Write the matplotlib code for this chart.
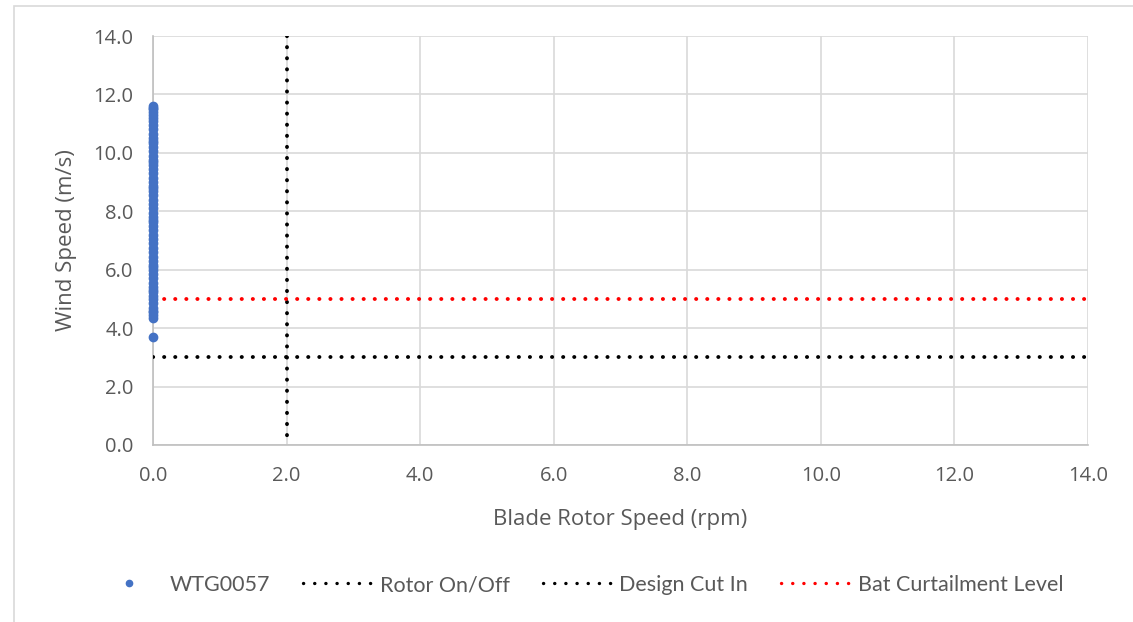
import matplotlib
matplotlib.use("Agg")
import matplotlib.pyplot as plt
from matplotlib.patches import Rectangle
from matplotlib.lines import Line2D

plt.rcParams['font.family'] = ['Open Sans', 'DejaVu Sans']

# Data
rotor_speed = [0.0] * 61
wind_speed = [3.7, 4.35, 4.45, 4.55, 4.7, 4.85, 5.0, 5.1, 5.25, 5.4, 5.55, 5.7,
              5.85, 6.0, 6.15, 6.3, 6.45, 6.6, 6.75, 6.9, 7.05, 7.2, 7.35, 7.5,
              7.65, 7.8, 7.95, 8.1, 8.25, 8.4, 8.55, 8.7, 8.85, 9.0, 9.15, 9.3,
              9.45, 9.6, 9.75, 9.9, 10.05, 10.2, 10.35, 10.5, 10.65, 10.8, 10.95,
              11.1, 11.2, 11.3, 11.4, 11.5, 11.55, 11.6, 4.6, 5.3, 6.1, 7.7, 8.8, 9.7, 10.4]
rotor_onoff_x = [2.0, 2.0]
rotor_onoff_y = [14.0, 0.0]
cut_in_x = [0.0, 14.0]
cut_in_y = [3.0, 3.0]
bat_x = [0.0, 14.0]
bat_y = [5.0, 5.0]
ticks = [0, 2, 4, 6, 8, 10, 12, 14]
tick_labels = ["0.0", "2.0", "4.0", "6.0", "8.0", "10.0", "12.0", "14.0"]

W, H = 1133, 622
fig = plt.figure(figsize=(W / 100, H / 100), dpi=100)
fig.patches.append(Rectangle((14 / W, -0.1), 1.2, 1 - 6 / H + 0.1, transform=fig.transFigure,
                             fill=False, edgecolor='#d9d9d9', linewidth=1.2))

ax = fig.add_axes([153 / W, 1 - 445 / H, (1088 - 153) / W, (445 - 36) / H])
txt = '#595959'
grid = '#d9d9d9'

LW = 2.8
dot_ls = (0, (0.05, 2.8))
ax.scatter(rotor_speed, wind_speed, s=36, color='#4472C4', zorder=4, label='WTG0057', clip_on=False)
ax.plot(rotor_onoff_x, rotor_onoff_y, color='black', lw=LW, ls=dot_ls, dash_capstyle='round',
        label='Rotor On/Off', zorder=3)
ax.plot(cut_in_x, cut_in_y, color='black', lw=LW, ls=dot_ls, dash_capstyle='round',
        label='Design Cut In', zorder=3)
ax.plot(bat_x, bat_y, color='#FF0000', lw=LW, ls=dot_ls, dash_capstyle='round',
        label='Bat Curtailment Level', zorder=3)

ax.set_xlim(0, 14)
ax.set_ylim(0, 14)
ax.set_xticks(ticks)
ax.set_xticklabels(tick_labels)
ax.set_yticks(ticks)
ax.set_yticklabels(tick_labels)
ax.grid(True, color=grid, lw=1.2, zorder=0)
ax.set_axisbelow(True)
for s in ['top', 'right']:
    ax.spines[s].set_visible(False)
for s in ['left', 'bottom']:
    ax.spines[s].set_color('#bfbfbf')
    ax.spines[s].set_linewidth(1.2)
ax.tick_params(length=0, labelsize=14.5, colors=txt)
ax.tick_params(axis='x', pad=15)
ax.tick_params(axis='y', pad=14)
ax.set_xlabel('Blade Rotor Speed (rpm)', fontsize=16, color=txt, labelpad=17)
ax.set_ylabel('Wind Speed (m/s)', fontsize=16, color=txt, labelpad=12)

handles = [Line2D([], [], marker='o', ls='none', color='#4472C4', markersize=4.5),
           Line2D([], [], color='black', lw=2.4, ls=(0, (0.05, 3.3)), dash_capstyle='round'),
           Line2D([], [], color='black', lw=2.4, ls=(0, (0.05, 3.3)), dash_capstyle='round'),
           Line2D([], [], color='#FF0000', lw=2.4, ls=(0, (0.05, 3.3)), dash_capstyle='round')]
labels = ['WTG0057', 'Rotor On/Off', 'Design Cut In', 'Bat Curtailment Level']
leg = fig.legend(handles, labels, loc='center', bbox_to_anchor=(578 / W, 1 - 585 / H), ncol=4,
                 frameon=False, columnspacing=1.55,
                 handlelength=3.4, handletextpad=0.15, labelcolor=txt,
                 prop={'family': ['Lato', 'DejaVu Sans'], 'size': 15.5})

fig.savefig('out.png', dpi=100, facecolor='white')
